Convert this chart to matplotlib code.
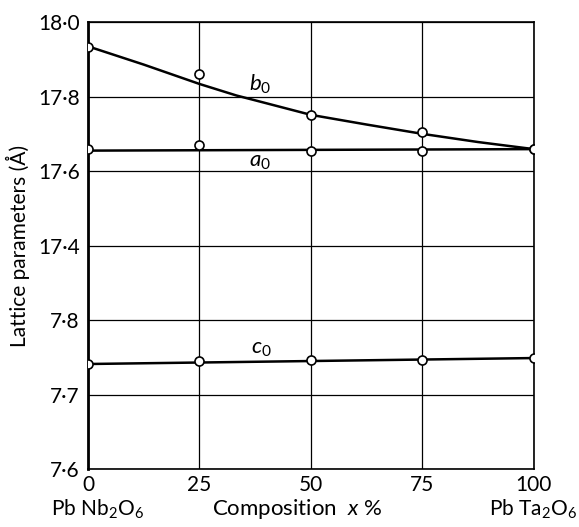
import numpy as np
import matplotlib
matplotlib.use("Agg")
from matplotlib import pyplot as plt

plt.rcParams['font.family'] = ['Lato', 'DejaVu Sans']
plt.rcParams['mathtext.fontset'] = 'custom'
plt.rcParams['mathtext.rm'] = 'Lato'
plt.rcParams['mathtext.it'] = 'Lato:italic'

# composition x % (PbNb2O6 -> PbTa2O6)
comp = [0, 25, 50, 75, 100]
b0_pts = [17.933, 17.862, 17.751, 17.705, 17.660]
a0_pts = [17.660, 17.669, 17.654, 17.654, 17.658]
c0_pts = [7.741, 7.7456, 7.7466, 7.746, 7.7497]

# drawn curves
b0_curve_x = [0, 12.5, 25, 33.3, 37.5, 50, 62.5, 75, 87.5, 100]
b0_curve = [17.935, 17.886, 17.834, 17.803, 17.790, 17.751, 17.725, 17.700, 17.678, 17.659]
a0_line_x = [0, 100]
a0_line = [17.655, 17.659]
c0_line_x = [0, 100]
c0_line = [7.741, 7.749]

yticks = [7.6, 7.7, 7.8, 17.4, 17.6, 17.8, 18.0]
ytick_labels = ['7·6', '7·7', '7·8', '17·4', '17·6', '17·8', '18·0']
xticks = [0, 25, 50, 75, 100]


# broken axis: 7.6-7.8 and 17.4-18.0 on different scales, one grid step between
def fwd(v):
    v = np.asarray(v, dtype=float)
    return np.where(v <= 7.8, (v - 7.6) / 0.1,
                    np.where(v >= 17.4, 3 + (v - 17.4) / 0.2, 2 + (v - 7.8) / 9.6))


def inv(u):
    u = np.asarray(u, dtype=float)
    return np.where(u <= 2, 7.6 + u * 0.1,
                    np.where(u >= 3, 17.4 + (u - 3) * 0.2, 7.8 + (u - 2) * 9.6))


fig = plt.figure(figsize=(5.79, 5.27), dpi=100)
ax = fig.add_axes([0.152, 0.110, 0.770, 0.848])
ax.set_yscale('function', functions=(fwd, inv))

mk = dict(marker='o', ls='none', ms=6.5, mfc='white', mec='black', mew=1.2, zorder=5)
ax.plot(b0_curve_x, b0_curve, color='black', lw=1.8, zorder=4)
ax.plot(a0_line_x, a0_line, color='black', lw=1.8, zorder=4)
ax.plot(c0_line_x, c0_line, color='black', lw=1.8, zorder=4)
ax.plot(comp, b0_pts, **mk)
ax.plot(comp, a0_pts, **mk)
ax.plot(comp, c0_pts, **mk)

ax.text(36, 17.815, '$b_0$', fontsize=16)
ax.text(36, 17.612, '$a_0$', fontsize=16)
ax.text(36.5, 7.755, '$c_0$', fontsize=16)

ax.set_xlim(0, 100)
ax.set_ylim(7.6, 18.0)
ax.set_xticks(xticks)
ax.set_yticks(yticks)
ax.set_yticklabels(ytick_labels)
ax.tick_params(length=0, labelsize=15, pad=4)
ax.tick_params(axis='y', pad=6)
ax.grid(True, color='black', lw=0.9)
for s in ax.spines.values():
    s.set_linewidth(1.2)
ax.spines['left'].set_linewidth(2)

ax.set_ylabel('Lattice parameters (Å)', fontsize=15)
ax.yaxis.set_label_coords(-0.13, 0.5)
fig.text(0.168, 0.022, 'Pb Nb$_2$O$_6$', fontsize=15, ha='center')
fig.text(0.513, 0.022, 'Composition  $x$ %', fontsize=16, ha='center')
fig.text(0.920, 0.022, 'Pb Ta$_2$O$_6$', fontsize=15, ha='center')

plt.savefig('out.png', dpi=100)
